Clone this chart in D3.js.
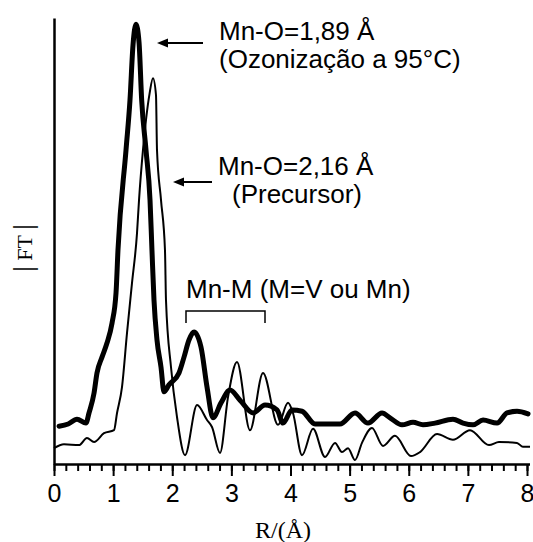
<!DOCTYPE html>
<html>
<head>
<meta charset="utf-8">
<script src="https://cdn.jsdelivr.net/npm/d3@7"></script>
<style>
  body { margin: 0; background: #fff; }
  svg { display: block; }
</style>
</head>
<body>
<div id="chart"></div>
<script>
// R (Å) and |FT| (arbitrary units)
const ozonR = [0.085, 0.24, 0.389, 0.541, 0.592, 0.677, 0.727, 0.812, 0.896, 0.981, 1.049, 1.082, 1.218, 1.285, 1.336, 1.387, 1.438, 1.483, 1.556, 1.624, 1.657, 1.691, 1.742, 1.81, 1.86, 1.945, 2.114, 2.199, 2.283, 2.368, 2.486, 2.588, 2.689, 2.825, 2.977, 3.146, 3.366, 3.569, 3.772, 3.873, 4.025, 4.195, 4.414, 4.837, 5.091, 5.311, 5.548, 5.683, 5.886, 6.072, 6.241, 6.444, 6.748, 6.918, 7.087, 7.256, 7.493, 7.662, 7.831, 8.017];
const ozonFT = [8.6, 9.1, 10.2, 9.3, 11.6, 16.1, 20.7, 24.3, 27.5, 32.0, 38.9, 48.6, 71.4, 82.7, 95.2, 100, 95.9, 82.7, 71.4, 60, 48.6, 37.3, 28.2, 22, 16.4, 18, 20.7, 24.3, 28.2, 30, 26.6, 17.5, 10.5, 13.9, 16.8, 14.5, 11.6, 13.4, 12.3, 9.3, 12.3, 12.0, 9.1, 9.1, 11.6, 9.3, 11.6, 10.5, 8.9, 9.5, 8.9, 9.3, 10.2, 9.3, 8.9, 10, 9.3, 11.6, 12, 11.4];

const precR = [0, 0.169, 0.423, 0.558, 0.677, 0.846, 1.015, 1.066, 1.15, 1.235, 1.319, 1.404, 1.438, 1.505, 1.615, 1.674, 1.725, 1.742, 1.81, 1.877, 1.894, 1.979, 2.08, 2.216, 2.419, 2.588, 2.672, 2.808, 2.943, 3.095, 3.315, 3.535, 3.789, 3.958, 4.042, 4.195, 4.381, 4.584, 4.753, 4.871, 4.973, 5.091, 5.209, 5.378, 5.564, 5.767, 6.038, 6.19, 6.478, 6.748, 7.036, 7.357, 7.526, 7.831, 7.932, 8.051];
const precFT = [3.6, 4.5, 4.3, 5.9, 5, 7, 7.7, 11.6, 17.5, 29.8, 41.1, 52.5, 60, 71.4, 84.1, 87.7, 83.9, 71.4, 60, 48.6, 37.3, 22, 10.7, 2.0, 13.4, 10, 8.4, 2.5, 15.2, 23.2, 7.7, 20.7, 8.9, 13.9, 11.6, 2.0, 8, 1.6, 4.8, 2.7, 3.6, 0.9, 4.8, 8.2, 4.1, 6.4, 1.8, 2.7, 6.8, 5.5, 7.7, 4.3, 5, 4.8, 3.9, 3.9];

const xMajor = [0, 1, 2, 3, 4, 5, 6, 7, 8];
const xMinor = d3.range(0, 8.01, 0.2);

const width = 533, height = 542;
const x = d3.scaleLinear().domain([0, 8]).range([54, 527]);
const y = d3.scaleLinear().domain([0, 101.4]).range([464, 18]);

const svg = d3.select("#chart").append("svg")
  .attr("width", width)
  .attr("height", height);

// curves
const line = d3.line()
  .x(d => x(d[0]))
  .y(d => y(d[1]))
  .curve(d3.curveMonotoneX);

svg.append("path")
  .datum(precR.map((r, i) => [r, precFT[i]]))
  .attr("d", line)
  .attr("fill", "none")
  .attr("stroke", "#000")
  .attr("stroke-width", 2)
  .attr("stroke-linejoin", "round");

svg.append("path")
  .datum(ozonR.map((r, i) => [r, ozonFT[i]]))
  .attr("d", line)
  .attr("fill", "none")
  .attr("stroke", "#000")
  .attr("stroke-width", 5)
  .attr("stroke-linejoin", "round")
  .attr("stroke-linecap", "round");

// axes
const fontSans = "'Liberation Sans', Arial, sans-serif";
const fontSerif = "'Liberation Serif', 'Times New Roman', serif";

svg.append("g")
  .attr("transform", `translate(0,${y(0)})`)
  .call(d3.axisBottom(x).tickValues(xMinor).tickSize(7).tickFormat(""))
  .call(g => g.select(".domain").remove())
  .call(g => g.selectAll("line").attr("stroke-width", 2));

const xAxis = svg.append("g")
  .attr("transform", `translate(0,${y(0)})`)
  .call(d3.axisBottom(x).tickValues(xMajor).tickSize(12).tickSizeOuter(0).tickPadding(8).tickFormat(d3.format("d")));
xAxis.select(".domain").attr("stroke-width", 2.5).attr("d", `M${x(0)},0.5H530`);
xAxis.selectAll("line").attr("stroke-width", 2);
xAxis.selectAll("text")
  .style("font-family", fontSans)
  .style("font-size", "25px")
  .attr("fill", "#000");

const yAxis = svg.append("g")
  .attr("transform", `translate(${x(0)},0)`)
  .call(d3.axisLeft(y).tickValues([]).tickSizeOuter(0));
yAxis.select(".domain").attr("stroke-width", 2.5);

svg.append("text")
  .attr("x", 283)
  .attr("y", 538)
  .attr("text-anchor", "middle")
  .style("font-family", fontSerif)
  .style("font-size", "24px")
  .text("R/(Å)");

const yTitle = svg.append("text")
  .attr("transform", "translate(32,248) rotate(-90)")
  .attr("text-anchor", "middle")
  .style("font-family", fontSerif)
  .style("font-size", "22px");
yTitle.append("tspan").style("font-size", "28px").text("|");
yTitle.append("tspan").text(" FT ");
yTitle.append("tspan").style("font-size", "28px").text("|");

// annotations
const arrows = [
  { x1: 203, x2: 157, y: 43 },
  { x1: 212, x2: 173, y: 182 }
];
svg.selectAll(".arrow").data(arrows).join("line")
  .attr("class", "arrow")
  .attr("x1", d => d.x1).attr("x2", d => d.x2 + 8)
  .attr("y1", d => d.y).attr("y2", d => d.y)
  .attr("stroke", "#000")
  .attr("stroke-width", 2);
svg.selectAll(".head").data(arrows).join("path")
  .attr("class", "head")
  .attr("d", d => `M${d.x2},${d.y}L${d.x2 + 11},${d.y - 4.5}L${d.x2 + 11},${d.y + 4.5}Z`)
  .attr("fill", "#000");

const labels = [
  { x: 219, y: 40, t: "Mn-O=1,89 Å" },
  { x: 219, y: 68, t: "(Ozonização a 95°C)" },
  { x: 218, y: 175, t: "Mn-O=2,16 Å" },
  { x: 232, y: 203, t: "(Precursor)" },
  { x: 186, y: 298, t: "Mn-M (M=V ou Mn)" }
];
svg.selectAll(".lbl").data(labels).join("text")
  .attr("class", "lbl")
  .attr("x", d => d.x)
  .attr("y", d => d.y)
  .style("font-family", fontSans)
  .style("font-size", "26px")
  .text(d => d.t);

// bracket for Mn-M
svg.append("path")
  .attr("d", "M186,323V311H265V323")
  .attr("fill", "none")
  .attr("stroke", "#000")
  .attr("stroke-width", 1.5);
</script>
</body>
</html>
